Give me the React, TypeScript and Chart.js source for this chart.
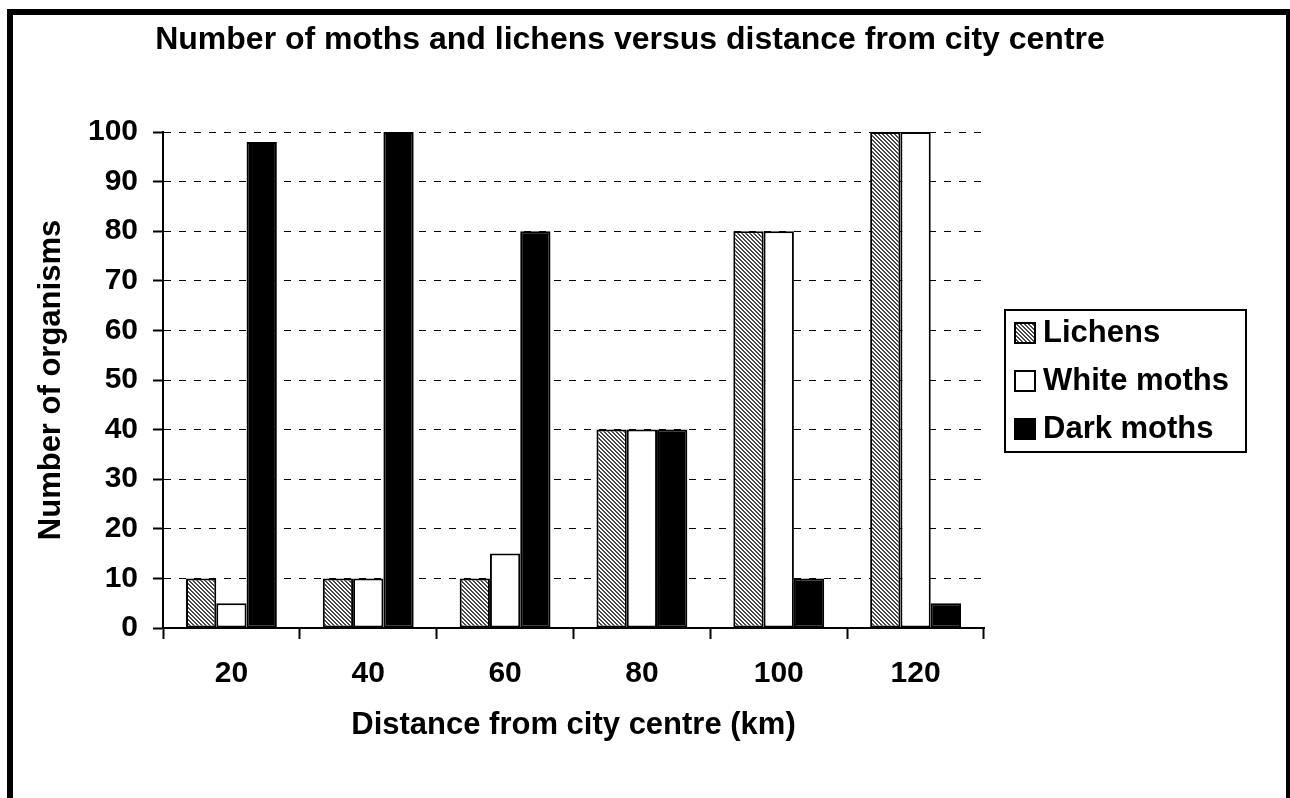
import React, { useEffect, useRef } from "react";
import { Chart, registerables } from "chart.js";

Chart.register(...registerables);

const chartTitle = "Number of moths and lichens versus distance from city centre";
const xAxisTitle = "Distance from city centre (km)";
const yAxisTitle = "Number of organisms";
const categories = ["20", "40", "60", "80", "100", "120"];
const seriesLabels = ["Lichens", "White moths", "Dark moths"];
const lichens = [10, 10, 10, 40, 80, 100];
const whiteMoths = [5, 10, 15, 40, 80, 100];
const darkMoths = [98, 100, 80, 40, 10, 5];
const yMin = 0;
const yMax = 100;
const yStep = 10;

const FONT = "'Liberation Sans', Arial, sans-serif";

function makeHatch(): CanvasPattern | string {
  const c = document.createElement("canvas");
  c.width = 4;
  c.height = 4;
  const g = c.getContext("2d");
  if (!g) return "#999";
  g.fillStyle = "#ffffff";
  g.fillRect(0, 0, 4, 4);
  g.fillStyle = "#4a4a4a";
  for (let y = 0; y < 4; y++) {
    for (let x = 0; x < 4; x++) {
      if ((x - y + 8) % 4 < 2) g.fillRect(x, y, 1, 1);
    }
  }
  const p = g.createPattern(c, "repeat");
  return p || "#999";
}

const backgroundPlugin = {
  id: "bgFrame",
  beforeDraw(chart: any) {
    const { ctx, width, height } = chart;
    ctx.save();
    ctx.fillStyle = "#ffffff";
    ctx.fillRect(0, 0, width, height);
    ctx.restore();
  },
  afterDraw(chart: any) {
    const { ctx } = chart;
    ctx.save();
    ctx.strokeStyle = "#000000";
    ctx.lineWidth = 6;
    ctx.strokeRect(10, 12, 1279, 900);
    ctx.restore();
  },
};

const boxLegendPlugin = {
  id: "boxLegend",
  afterDraw(chart: any) {
    const { ctx, chartArea } = chart;
    const left = chartArea.right + 21;
    const boxW = 241;
    const spacing = 48;
    const boxH = 142;
    const cy = (chartArea.top + chartArea.bottom) / 2 + 1;
    const top = cy - boxH / 2;
    ctx.save();
    ctx.strokeStyle = "#000";
    ctx.lineWidth = 2;
    ctx.strokeRect(left, top, boxW, boxH);
    const n = chart.data.datasets.length;
    chart.data.datasets.forEach((ds: any, i: number) => {
      const y = cy + (i - (n - 1) / 2) * spacing;
      ctx.fillStyle = ds.backgroundColor;
      ctx.fillRect(left + 9, y - 11, 22, 22);
      ctx.lineWidth = 2;
      ctx.strokeStyle = "#000";
      ctx.strokeRect(left + 10, y - 10, 20, 20);
      ctx.fillStyle = "#000";
      ctx.font = `bold 31px ${FONT}`;
      ctx.textBaseline = "middle";
      ctx.textAlign = "left";
      ctx.fillText(ds.label, left + 38, y);
    });
    ctx.restore();
  },
};

export default function App() {
  const ref = useRef<HTMLCanvasElement | null>(null);

  useEffect(() => {
    if (!ref.current) return;
    const hatch = makeHatch();
    const barCommon = {
      borderColor: "#000000",
      borderWidth: 2,
      borderSkipped: false as const,
      categoryPercentage: 0.664,
      barPercentage: 1.0,
      yAxisID: "y",
    };
    const chart = new Chart(ref.current, {
      type: "bar",
      data: {
        labels: categories,
        datasets: [
          { label: seriesLabels[0], data: lichens, backgroundColor: hatch as any, ...barCommon },
          { label: seriesLabels[1], data: whiteMoths, backgroundColor: "#ffffff", ...barCommon },
          { label: seriesLabels[2], data: darkMoths, backgroundColor: "#000000", ...barCommon },
        ],
      },
      options: {
        animation: false,
        responsive: true,
        maintainAspectRatio: false,
        layout: { padding: { left: 0, right: 30, top: 0, bottom: 45 } },
        plugins: {
          legend: { display: false },
          tooltip: { enabled: false },
          title: {
            display: true,
            text: chartTitle,
            color: "#000",
            font: { family: FONT, size: 32, weight: "bold" },
            padding: { top: 21, bottom: 72.6 },
          },
        },
        scales: {
          x: {
            type: "category",
            grid: {
              display: true,
              drawOnChartArea: false,
              drawTicks: true,
              tickLength: 11,
              tickWidth: 2,
              tickColor: "#000",
              color: "#000",
              offset: true,
              tickBorderDash: [],
            },
            border: { display: true, color: "#000", width: 2 },
            ticks: {
              color: "#000",
              font: { family: FONT, size: 30, weight: "bold" },
              padding: 17,
              maxRotation: 0,
              autoSkip: false,
            },
            title: {
              display: true,
              text: xAxisTitle,
              color: "#000",
              font: { family: FONT, size: 31, weight: "bold" },
              padding: { top: 0, bottom: 9.4 },
            },
            afterFit(s: any) {
              s.height = 125;
            },
          },
          y: {
            type: "linear",
            position: "left",
            min: yMin,
            max: yMax,
            grid: {
              color: "#000",
              lineWidth: 1,
              drawTicks: true,
              tickLength: 10,
              tickWidth: 2,
              tickColor: "#000",
              tickBorderDash: [],
            },
            border: { display: true, color: "#000", width: 2, dash: [7, 8] },
            ticks: {
              stepSize: yStep,
              color: "#000",
              font: { family: FONT, size: 30, weight: "bold" },
              padding: 15,
            },
            title: {
              display: true,
              text: yAxisTitle,
              color: "#000",
              font: { family: FONT, size: 31, weight: "bold" },
              padding: { top: 33, bottom: 0 },
            },
            afterFit(s: any) {
              s.width = 163;
            },
          },
          y2: {
            type: "linear",
            position: "right",
            display: true,
            grid: { display: false, drawTicks: false },
            border: { display: false },
            ticks: { display: false },
            afterFit(s: any) {
              s.width = 276;
            },
          },
        },
      },
      plugins: [backgroundPlugin, boxLegendPlugin],
    } as any);
    return () => chart.destroy();
  }, []);

  return (
    <div style={{ position: "absolute", left: 0, top: 0, width: 1290, height: 798 }}>
      <canvas ref={ref} />
    </div>
  );
}
